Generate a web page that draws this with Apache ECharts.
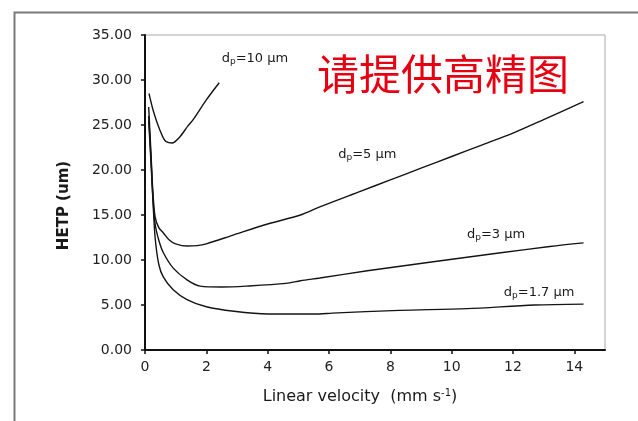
<!DOCTYPE html>
<html><head><meta charset="utf-8">
<script src="https://cdn.jsdelivr.net/npm/echarts@6/dist/echarts.min.js"></script>
<style>html,body{margin:0;padding:0;background:#fff}#c{width:638px;height:421px}</style>
</head><body><div id="c"></div>
<script>
// Data (x: linear velocity mm/s, y: HETP um)
const dp10 = [[0.13,28.5],[0.2,27.5],[0.26,26.7],[0.39,25.3],[0.49,24.4],[0.59,23.6],[0.69,23.15],[0.88,23.0],[1.14,23.7],[1.4,24.9],[1.57,25.6],[2.0,27.8],[2.42,29.7]];
const dp5 = [[0.12,27.0],[0.2,21.5],[0.26,17.4],[0.33,14.8],[0.45,13.6],[0.6,13.0],[0.8,12.2],[1.0,11.8],[1.37,11.55],[1.7,11.6],[2.0,11.8],[2.9,12.8],[4.0,14.0],[5.07,15.0],[5.7,15.9],[7,17.6],[8,18.9],[9,20.2],[10,21.5],[11,22.8],[12,24.1],[13,25.6],[14.3,27.6]];
const dp3 = [[0.12,26.0],[0.2,21.0],[0.26,16.8],[0.33,14.0],[0.45,12.2],[0.6,10.8],[0.92,9.1],[1.37,7.8],[1.8,7.1],[2.5,7.0],[3.3,7.1],[4.6,7.4],[5.07,7.7],[5.7,8.0],[7.25,8.8],[9.4,9.8],[11.6,10.8],[13.2,11.5],[14.3,11.9]];
const dp17 = [[0.12,25.5],[0.2,20.5],[0.26,16.5],[0.33,12.5],[0.45,9.5],[0.6,8.1],[0.92,6.7],[1.37,5.6],[2.0,4.8],[2.9,4.3],[4.0,4.0],[5.7,4.0],[6.1,4.1],[8.3,4.4],[10.5,4.6],[12.7,5.0],[14.3,5.1]];
const seriesNames = ['10', '5', '3', '1.7'];
const labelPos = [[2.5,32.4],[6.3,21.7],[10.5,12.8],[11.7,6.4]];
const xTicks = [0,2,4,6,8,10,12,14];
const yTicks = [0,5,10,15,20,25,30,35];

const chart = echarts.init(document.getElementById('c'));
const FONT = 'DejaVu Sans, sans-serif';
const lineStyle = {color:'#141414', width:1.4};
const datasets = [dp10, dp5, dp3, dp17];
const series = datasets.map((d,i)=>({
  type:'line', data:d, smooth:0.3, showSymbol:false, symbol:'none',
  lineStyle:lineStyle, silent:true, z:3,
  markPoint:{
    symbol:'circle', symbolSize:0, silent:true,
    data:[{coord:labelPos[i], value:''}],
    label:{show:true, position:'right', distance:0,
      formatter:'{a|d}{s|p}{a|=' + seriesNames[i] + ' \u00b5m}',
      rich:{a:{fontFamily:FONT, fontSize:13, color:'#1a1a1a'}, s:{fontFamily:FONT, fontSize:9, color:'#1a1a1a', verticalAlign:'bottom', padding:[6,0,0,0]}}
    }
  }
}));

chart.setOption({
  animation:false,
  backgroundColor:'#fff',
  title:{text:'请提供高精图', left:312, top:48,
    textStyle:{fontFamily:'Noto Sans CJK SC', fontSize:42, fontWeight:'normal', color:'#e60012'}},
  graphic:[{type:'rect', left:12, top:10, shape:{width:700, height:500}, style:{fill:'none', stroke:'#7a7a7a', lineWidth:2}, z:-1}],
  grid:{left:145, right:33, top:35, bottom:71, show:true, borderColor:'#aaa', borderWidth:1, backgroundColor:'#fff'},
  xAxis:{type:'value', min:0, max:15, interval:2,
    name:'Linear velocity  (mm s{sup|-1})', nameLocation:'middle', nameGap:38,
    nameTextStyle:{fontFamily:FONT, fontSize:16, color:'#1a1a1a', padding:[0,30,0,0],
      rich:{sup:{fontFamily:FONT, fontSize:10, color:'#1a1a1a', verticalAlign:'top', padding:[0,0,8,0]}}},
    axisLine:{show:true, onZero:false, lineStyle:{color:'#111', width:2}},
    axisTick:{show:true, length:4, lineStyle:{color:'#111', width:1.5}, customValues:xTicks},
    axisLabel:{fontFamily:FONT, fontSize:14, color:'#222', margin:10, customValues:xTicks},
    splitLine:{show:false}},
  yAxis:{type:'value', min:0, max:35, interval:5,
    name:'HETP (um)', nameLocation:'middle', nameGap:73,
    nameTextStyle:{fontFamily:FONT, fontSize:15, fontWeight:'bold', color:'#1a1a1a', padding:[0,26,0,0]},
    axisLine:{show:true, onZero:false, lineStyle:{color:'#111', width:2}},
    axisTick:{show:true, length:4, lineStyle:{color:'#111', width:1.5}, customValues:yTicks},
    axisLabel:{fontFamily:FONT, fontSize:14, color:'#222', margin:13, customValues:yTicks,
      formatter:v=>Number(v).toFixed(2)},
    splitLine:{show:false}},
  series:series
});
</script></body></html>
